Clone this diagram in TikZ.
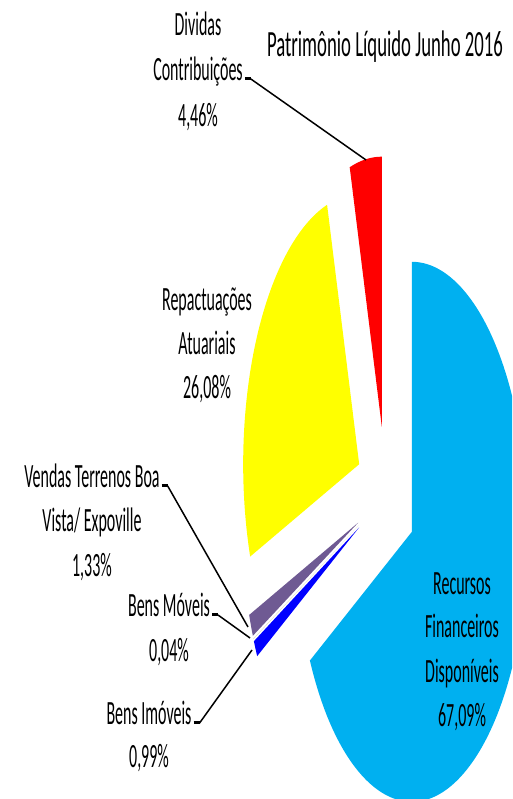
\documentclass[tikz,border=0pt]{standalone}
\usepackage{fontspec}
\setmainfont{Carlito}
\definecolor{recursos}{HTML}{00B0F0}
\definecolor{imoveis}{HTML}{0000FF}
\definecolor{moveis}{HTML}{DDD9C3}
\definecolor{vendas}{HTML}{6F5A93}
\definecolor{repact}{HTML}{FFFF00}
\definecolor{dividas}{HTML}{FF0000}
\begin{document}
\begin{tikzpicture}[x=1pt,y=1pt,
lbl/.style={font=\fontsize{34}{40}\selectfont, xscale=0.47, anchor=base, inner sep=0pt},
leader/.style={draw=black, line width=1.5pt},
tick/.style={draw=black, line width=3pt}]
\useasboundingbox (0,0) rectangle (512,799);
\begin{scope}
\clip (0,0) rectangle (512,799);
% exploded pie, squeezed sideways
\foreach \a/\b/\c in {-151.52/90/recursos, 204.92/208.48/imoveis, 204.78/204.92/moveis, 199.99/204.78/vendas, 106.06/199.99/repact, 90/106.06/dividas}{
  \pgfmathsetmacro\m{(\a+\b)/2}
  \pgfmathsetmacro\px{386+30.1*cos(\m)}
  \pgfmathsetmacro\py{303+70*sin(\m)}
  \fill[\c] (\px,\py) -- ++({116*cos(\a)},{270*sin(\a)}) arc[start angle=\a, end angle=\b, x radius=116, y radius=270] -- cycle;
}
\end{scope}
% title
\node[lbl, font=\fontsize{37}{40}\selectfont, xscale=1.077] (title) at (385,742) {Patrimônio Líquido Junho 2016};
% labels
\node[lbl] (div1) at (198,763) {Dividas};
\node[lbl] (div2) at (198,718) {Contribuições};
\node[lbl] (div3) at (198,672) {4,46\%};
\node[lbl] (rep1) at (207,488) {Repactuações};
\node[lbl] (rep2) at (207,444) {Atuariais};
\node[lbl] (rep3) at (207,400) {26,08\%};
\node[lbl] (ven1) at (92,311) {Vendas Terrenos Boa};
\node[lbl] (ven2) at (92,267) {Vista/ Expoville};
\node[lbl] (ven3) at (92,222) {1,33\%};
\node[lbl] (mov1) at (169,182) {Bens Móveis};
\node[lbl] (mov2) at (169,137) {0,04\%};
\node[lbl] (imo1) at (149,74) {Bens Imóveis};
\node[lbl] (imo2) at (149,31) {0,99\%};
\node[lbl] (rec1) at (462,204) {Recursos};
\node[lbl] (rec2) at (462,161) {Financeiros};
\node[lbl] (rec3) at (462,116) {Disponíveis};
\node[lbl] (rec4) at (462,72) {67,09\%};
% leader lines
\coordinate (divEnd) at (366,639);
\coordinate (venEnd) at (248,172);
\coordinate (movEnd) at (250,161);
\coordinate (imoEnd) at (252,149);
\draw[tick] (div2.base east) ++(2,2) -- ++(6,0) coordinate (divT);
\draw[leader] (divT) -- (divEnd);
\draw[tick] (ven1.base east) ++(2,2) -- ++(6,0) coordinate (venT);
\draw[leader] (venT) -- (venEnd);
\draw[tick] (mov1.base east) ++(2,2) -- ++(6,0) coordinate (movT);
\draw[leader] (movT) -- (movEnd);
\draw[tick] (imo1.base east) ++(2,2) -- ++(6,0) coordinate (imoT);
\draw[leader] (imoT) -- (imoEnd);
\end{tikzpicture}
\end{document}
